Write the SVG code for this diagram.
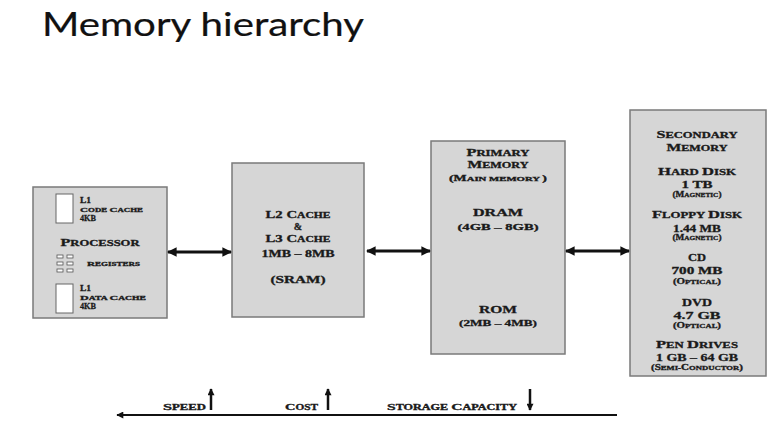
<svg xmlns="http://www.w3.org/2000/svg" width="780" height="425" viewBox="0 0 780 425">
<style>
.box{fill:#d6d6d6;stroke:#7a7a7a;stroke-width:1.5}
.t{font-family:"Liberation Serif",serif;font-weight:bold;fill:#1a1a1a;stroke:#1a1a1a;stroke-width:0.3;text-anchor:middle}
.l{text-anchor:start}
.ln{stroke:#111;stroke-width:3;fill:none}
.wr{fill:#fff;stroke:#666;stroke-width:1}
.rg{fill:#fff;stroke:#555;stroke-width:0.8}
.a{stroke:#111;stroke-width:2.5}
</style>
<defs>
<marker id="ah" viewBox="0 0 10 10" refX="9" refY="5" markerWidth="3.2" markerHeight="3.2" orient="auto-start-reverse">
<path d="M0,0 L10,5 L0,10 z" fill="#111"/>
</marker>
<marker id="ah2" viewBox="0 0 10 10" refX="9" refY="5" markerWidth="8" markerHeight="7" markerUnits="userSpaceOnUse" orient="auto-start-reverse">
<path d="M0,0 L10,5 L0,10 z" fill="#111"/>
</marker>
</defs>
<rect width="780" height="425" fill="#fff"/>
<text x="42" y="36" font-family="Lato,'Open Sans',sans-serif" font-size="32" fill="#111" stroke="#111" stroke-width="0.2" textLength="322" lengthAdjust="spacingAndGlyphs">Memory hierarchy</text>

<g id="processor">
<rect class="box" x="33" y="187" width="134" height="131"/>
<rect class="wr" x="56" y="194" width="17" height="29"/>
<text class="t l" x="80" y="203" font-size="8.5" textLength="11" lengthAdjust="spacingAndGlyphs">L1</text>
<text class="t l" x="80" y="211.5" font-size="5.6" textLength="63" lengthAdjust="spacingAndGlyphs"><tspan font-size="7">C</tspan>ODE <tspan font-size="7">C</tspan>ACHE</text>
<text class="t l" x="80" y="220.5" font-size="9" textLength="16" lengthAdjust="spacingAndGlyphs">4KB</text>
<text class="t" x="100" y="245.5" font-size="8" textLength="79" lengthAdjust="spacingAndGlyphs"><tspan font-size="10.2">P</tspan>ROCESSOR</text>
<rect class="rg" x="57" y="255" width="6" height="3"/>
<rect class="rg" x="67" y="255" width="6" height="3"/>
<rect class="rg" x="57" y="262" width="6" height="3"/>
<rect class="rg" x="67" y="262" width="6" height="3"/>
<rect class="rg" x="57" y="269" width="6" height="3"/>
<rect class="rg" x="67" y="269" width="6" height="3"/>
<text class="t l" x="87" y="266" font-size="5.6" textLength="53" lengthAdjust="spacingAndGlyphs"><tspan font-size="7">R</tspan>EGISTERS</text>
<rect class="wr" x="56" y="284" width="17" height="29"/>
<text class="t l" x="80" y="291" font-size="8.5" textLength="11" lengthAdjust="spacingAndGlyphs">L1</text>
<text class="t l" x="80" y="299.5" font-size="5.6" textLength="66" lengthAdjust="spacingAndGlyphs"><tspan font-size="7">D</tspan>ATA <tspan font-size="7">C</tspan>ACHE</text>
<text class="t l" x="80" y="308.5" font-size="9" textLength="16" lengthAdjust="spacingAndGlyphs">4KB</text>
</g>

<g id="l2l3">
<rect class="box" x="232" y="163" width="132" height="154"/>
<text class="t" x="298" y="218" font-size="8" textLength="65" lengthAdjust="spacingAndGlyphs"><tspan font-size="10.2">L2 C</tspan>ACHE</text>
<text class="t" x="298" y="230" font-size="10">&amp;</text>
<text class="t" x="298" y="242" font-size="8" textLength="65" lengthAdjust="spacingAndGlyphs"><tspan font-size="10.2">L3 C</tspan>ACHE</text>
<text class="t" x="298" y="257" font-size="10" textLength="73" lengthAdjust="spacingAndGlyphs">1MB – 8MB</text>
<text class="t" x="298" y="283" font-size="10" textLength="55" lengthAdjust="spacingAndGlyphs">(SRAM)</text>
</g>

<g id="primary">
<rect class="box" x="431" y="141" width="134" height="213"/>
<text class="t" x="498" y="155.5" font-size="7.8" textLength="63" lengthAdjust="spacingAndGlyphs"><tspan font-size="10">P</tspan>RIMARY</text>
<text class="t" x="498" y="167.5" font-size="7.8" textLength="61" lengthAdjust="spacingAndGlyphs"><tspan font-size="10">M</tspan>EMORY</text>
<text class="t" x="498" y="180.5" font-size="5.6" textLength="98" lengthAdjust="spacingAndGlyphs"><tspan font-size="7.2">(M</tspan>AIN MEMORY <tspan font-size="7.2">)</tspan></text>
<text class="t" x="498" y="216" font-size="11" textLength="50" lengthAdjust="spacingAndGlyphs">DRAM</text>
<text class="t" x="498" y="230" font-size="8.5" textLength="81" lengthAdjust="spacingAndGlyphs">(4GB – 8GB)</text>
<text class="t" x="498" y="313" font-size="11" textLength="38" lengthAdjust="spacingAndGlyphs">ROM</text>
<text class="t" x="498" y="326" font-size="8.5" textLength="78" lengthAdjust="spacingAndGlyphs">(2MB – 4MB)</text>
</g>

<g id="secondary">
<rect class="box" x="630" y="110" width="136" height="266"/>
<text class="t" x="697" y="138" font-size="7.8" textLength="81" lengthAdjust="spacingAndGlyphs"><tspan font-size="10">S</tspan>ECONDARY</text>
<text class="t" x="697" y="151" font-size="7.8" textLength="61" lengthAdjust="spacingAndGlyphs"><tspan font-size="10">M</tspan>EMORY</text>
<text class="t" x="697" y="175" font-size="8.5" textLength="78" lengthAdjust="spacingAndGlyphs"><tspan font-size="11">H</tspan>ARD <tspan font-size="11">D</tspan>ISK</text>
<text class="t" x="697" y="188" font-size="9.5" textLength="31" lengthAdjust="spacingAndGlyphs">1 TB</text>
<text class="t" x="697" y="196.5" font-size="5.8" textLength="49" lengthAdjust="spacingAndGlyphs"><tspan font-size="7.4">(M</tspan>AGNETIC<tspan font-size="7.4">)</tspan></text>
<text class="t" x="697" y="218" font-size="8.5" textLength="90" lengthAdjust="spacingAndGlyphs"><tspan font-size="11">F</tspan>LOPPY <tspan font-size="11">D</tspan>ISK</text>
<text class="t" x="697" y="231.5" font-size="9.5" textLength="48" lengthAdjust="spacingAndGlyphs">1.44 MB</text>
<text class="t" x="697" y="240" font-size="5.8" textLength="49" lengthAdjust="spacingAndGlyphs"><tspan font-size="7.4">(M</tspan>AGNETIC<tspan font-size="7.4">)</tspan></text>
<text class="t" x="697" y="261" font-size="11" textLength="18" lengthAdjust="spacingAndGlyphs">CD</text>
<text class="t" x="697" y="274" font-size="9.5" textLength="51" lengthAdjust="spacingAndGlyphs">700 MB</text>
<text class="t" x="697" y="283.5" font-size="5.8" textLength="48" lengthAdjust="spacingAndGlyphs"><tspan font-size="7.4">(O</tspan>PTICAL<tspan font-size="7.4">)</tspan></text>
<text class="t" x="697" y="306" font-size="11" textLength="30" lengthAdjust="spacingAndGlyphs">DVD</text>
<text class="t" x="697" y="318.5" font-size="9.5" textLength="47" lengthAdjust="spacingAndGlyphs">4.7 GB</text>
<text class="t" x="697" y="327.5" font-size="5.8" textLength="48" lengthAdjust="spacingAndGlyphs"><tspan font-size="7.4">(O</tspan>PTICAL<tspan font-size="7.4">)</tspan></text>
<text class="t" x="697" y="348" font-size="8.5" textLength="82" lengthAdjust="spacingAndGlyphs"><tspan font-size="11">P</tspan>EN <tspan font-size="11">D</tspan>RIVES</text>
<text class="t" x="697" y="361" font-size="9.5" textLength="82" lengthAdjust="spacingAndGlyphs">1 GB – 64 GB</text>
<text class="t" x="697" y="369.5" font-size="5.8" textLength="92" lengthAdjust="spacingAndGlyphs"><tspan font-size="7.4">(S</tspan>EMI-<tspan font-size="7.4">C</tspan>ONDUCTOR<tspan font-size="7.4">)</tspan></text>
</g>

<g id="trend">
<text class="t l" x="163" y="410" font-size="7.2" textLength="43" lengthAdjust="spacingAndGlyphs"><tspan font-size="9.2">S</tspan>PEED</text>
<text class="t l" x="285" y="410" font-size="7.2" textLength="33" lengthAdjust="spacingAndGlyphs"><tspan font-size="9.2">C</tspan>OST</text>
<text class="t l" x="387" y="410" font-size="7.2" textLength="130" lengthAdjust="spacingAndGlyphs"><tspan font-size="9.2">S</tspan>TORAGE <tspan font-size="9.2">C</tspan>APACITY</text>
</g>

<g id="connectors">
<line class="ln" x1="168" y1="252" x2="231" y2="252" marker-start="url(#ah)" marker-end="url(#ah)"/>
<line class="ln" x1="367" y1="251" x2="430" y2="251" marker-start="url(#ah)" marker-end="url(#ah)"/>
<line class="ln" x1="566" y1="251" x2="629" y2="251" marker-start="url(#ah)" marker-end="url(#ah)"/>
<line x1="617" y1="415" x2="117" y2="415" stroke="#111" stroke-width="2" marker-end="url(#ah2)"/>
<line class="a" x1="211" y1="410" x2="211" y2="389" marker-end="url(#ah2)"/>
<line class="a" x1="328" y1="410" x2="328" y2="389" marker-end="url(#ah2)"/>
<line class="a" x1="530" y1="389" x2="530" y2="410" marker-end="url(#ah2)"/>
</g>
</svg>
